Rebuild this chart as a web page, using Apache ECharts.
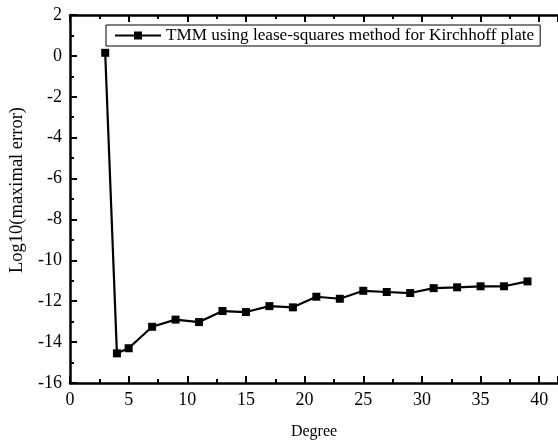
<!DOCTYPE html>
<html><head><meta charset="utf-8">
<script src="https://cdn.jsdelivr.net/npm/echarts@6/dist/echarts.min.js"></script>
<style>html,body{margin:0;padding:0;background:#fff}#c{width:558px;height:441px}</style>
</head><body><div id="c"></div>
<script>
const degrees = [3,4,5,7,9,11,13,15,17,19,21,23,25,27,29,31,33,35,37,39];
const logErr = [0.15,-14.55,-14.3,-13.25,-12.9,-13.02,-12.48,-12.53,-12.24,-12.3,-11.78,-11.88,-11.49,-11.55,-11.6,-11.36,-11.32,-11.27,-11.27,-11.03];
const seriesName = 'TMM using lease-squares method for Kirchhoff plate';
const xName = 'Degree';
const yName = 'Log10(maximal error)';
const font = '"Liberation Serif", "Times New Roman", serif';

const chart = echarts.init(document.getElementById('c'));
const axisLine = {show:true, onZero:false, lineStyle:{color:'#000', width:2.5}};
const tick = {show:true, inside:true, length:7, lineStyle:{color:'#000', width:2}};
const minor = {show:true, splitNumber:2, length:4, lineStyle:{color:'#000', width:2}};
chart.setOption({
  animation:false,
  backgroundColor:'#fff',
  grid:{left:70, right:0, top:15, bottom:58, containLabel:false, outerBoundsMode:'none'},
  legend:{
    left:106, top:25, padding:[2,6,2,8],
    borderColor:'#000', borderWidth:1, backgroundColor:'#fff',
    itemWidth:46, itemHeight:10, itemGap:6,
    textStyle:{fontFamily:font, fontSize:17.2, color:'#000'},
    data:[seriesName]
  },
  xAxis:[{
    type:'value', min:0, max:41.6, interval:5, position:'bottom',
    axisLine:axisLine, axisTick:tick, minorTick:minor,
    axisLabel:{fontFamily:font, fontSize:18, color:'#000', margin:8, showMaxLabel:false},
    splitLine:{show:false},
    name:xName, nameLocation:'middle', nameGap:41,
    nameTextStyle:{fontFamily:font, fontSize:16, color:'#000'}
  },{
    type:'value', min:0, max:41.6, interval:5, position:'top',
    axisLine:axisLine, axisTick:tick, minorTick:minor,
    axisLabel:{show:false}, splitLine:{show:false}
  }],
  yAxis:{
    type:'value', min:-16, max:2, interval:2,
    axisLine:axisLine, axisTick:tick, minorTick:minor,
    axisLabel:{fontFamily:font, fontSize:18, color:'#000', margin:8},
    splitLine:{show:false},
    name:yName, nameLocation:'middle', nameGap:42, nameRotate:90,
    nameTextStyle:{fontFamily:font, fontSize:18.5, color:'#000', padding:[0,0,0,18]}
  },
  series:[{
    name:seriesName, type:'line',
    data:degrees.map((d,i)=>[d, logErr[i]]),
    symbol:'rect', symbolSize:8,
    lineStyle:{color:'#000', width:2.2},
    itemStyle:{color:'#000'},
    clip:false
  }]
});
</script></body></html>
